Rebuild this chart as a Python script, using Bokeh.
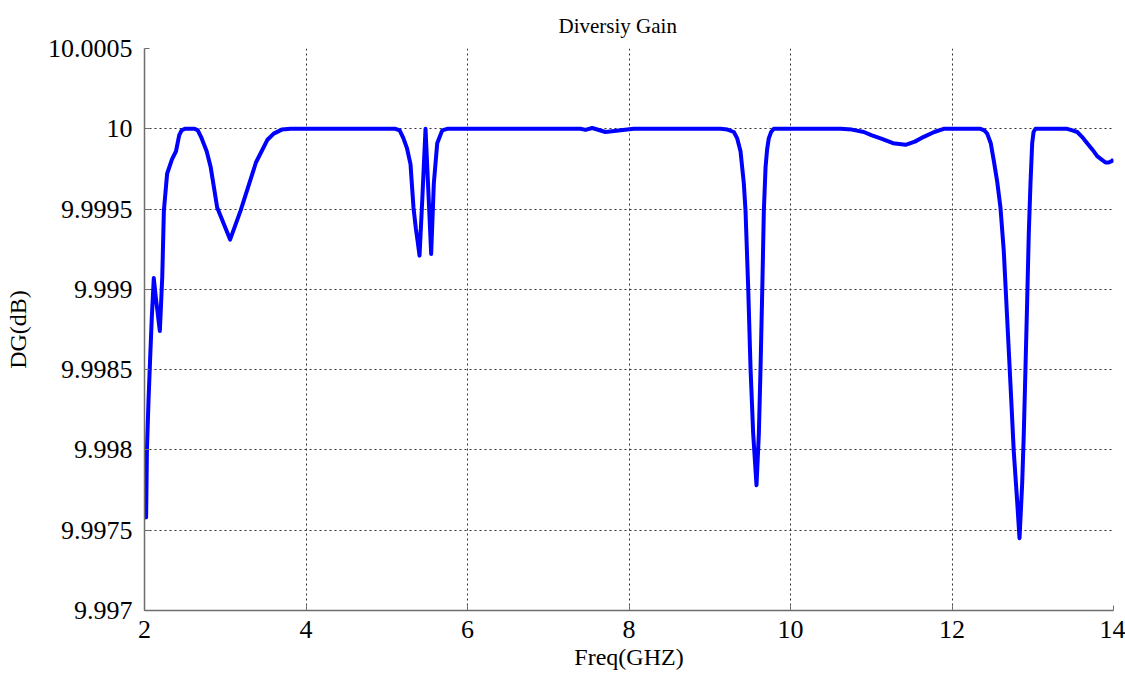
from bokeh.plotting import figure
from bokeh.models import Range1d, FixedTicker, CustomJSTickFormatter
from bokeh.embed import file_html
from bokeh.resources import INLINE

# Diversity gain versus frequency
freq_ghz = [
    2.00, 2.02, 2.03, 2.05, 2.07, 2.09, 2.115, 2.14, 2.19, 2.22, 2.24, 2.28,
    2.34, 2.39, 2.43, 2.46, 2.50, 2.56, 2.62, 2.66, 2.70, 2.77, 2.82, 2.90,
    3.06, 3.19, 3.38, 3.52, 3.60, 3.70, 3.81, 5.00, 5.108, 5.16, 5.207, 5.25,
    5.294, 5.331, 5.36, 5.385, 5.406, 5.439, 5.480, 5.521, 5.550, 5.583, 5.625,
    5.687, 5.749, 7.40, 7.461, 7.544, 7.709, 8.06, 9.133, 9.22, 9.298, 9.34,
    9.381, 9.422, 9.443, 9.476, 9.505, 9.538, 9.579, 9.608, 9.629, 9.650,
    9.670, 9.691, 9.71, 9.731, 9.76, 9.793, 10.619, 10.76, 10.908, 11.0,
    11.115, 11.27, 11.424, 11.54, 11.651, 11.78, 11.898, 12.270, 12.353,
    12.40, 12.436, 12.48, 12.518, 12.56, 12.600, 12.641, 12.683, 12.724,
    12.765, 12.807, 12.836, 12.869, 12.889, 12.910, 12.931, 12.951, 12.972,
    12.993, 13.01, 13.034, 13.427, 13.49, 13.551, 13.61, 13.674, 13.74, 13.798,
    13.85, 13.901, 13.94, 13.984, 14.0,
]
dg_db = [
    9.99765, 9.99758, 9.99800, 9.99831, 9.99857, 9.99882, 9.99907, 9.99895,
    9.99874, 9.99908, 9.99949, 9.99972, 9.99981, 9.99986, 9.99996, 9.99999,
    10.0, 10.0, 10.0, 9.99999, 9.99995, 9.99986, 9.99976, 9.99951, 9.99931,
    9.99949, 9.99979, 9.99993, 9.99997, 9.999995, 10.0, 10.0, 10.0, 9.99999,
    9.99994, 9.99988, 9.99978, 9.99951, 9.99938, 9.99929, 9.99921, 9.99955,
    10.0, 9.99955, 9.99922, 9.99966, 9.99991, 9.99999, 10.0, 10.0, 9.999993,
    10.000005, 9.99998, 10.0, 10.0, 9.999995, 9.99998, 9.99994, 9.99986,
    9.99966, 9.99949, 9.99901, 9.99851, 9.99810, 9.99778, 9.99810, 9.99851,
    9.99899, 9.99949, 9.99976, 9.99987, 9.99994, 9.99998, 10.0, 10.0,
    9.999995, 9.99998, 9.99996, 9.99994, 9.99991, 9.99990, 9.99992, 9.99995,
    9.99998, 10.0, 10.0, 10.0, 9.99999, 9.99997, 9.99991, 9.99980, 9.99967,
    9.99951, 9.99924, 9.99882, 9.99841, 9.99799, 9.99768, 9.99745, 9.99779,
    9.99810, 9.99851, 9.99893, 9.99935, 9.99966, 9.99991, 9.99998, 10.0, 10.0,
    9.99999, 9.99998, 9.99995, 9.99991, 9.99987, 9.99983, 9.99981, 9.99979,
    9.99979, 9.99980, 9.99981,
]

x_ticks = [2, 4, 6, 8, 10, 12, 14]
y_ticks = [9.997, 9.9975, 9.998, 9.9985, 9.999, 9.9995, 10.0, 10.0005]

SERIF = "Liberation Serif"

p = figure(
    width=1125, height=673,
    output_backend="svg", toolbar_location=None,
    x_range=Range1d(2, 14), y_range=Range1d(9.997, 10.0005),
    min_border_left=144, min_border_right=12,
    min_border_top=48, min_border_bottom=63,
    title="Diversiy Gain",
)
p.outline_line_color = None
p.background_fill_color = "white"
p.border_fill_color = "white"

p.title.text_font = SERIF
p.title.text_font_style = "normal"
p.title.text_font_size = "21px"
p.title.align = "left"
p.title.offset = 414
p.title.standoff = 22
p.title.text_color = "black"

p.line(freq_ghz, dg_db, line_color="#0000ff", line_width=4, line_join="round")

p.xaxis.ticker = FixedTicker(ticks=x_ticks)
p.yaxis.ticker = FixedTicker(ticks=y_ticks)
p.yaxis.formatter = CustomJSTickFormatter(
    code="return parseFloat(tick.toFixed(4)).toString();"
)

for ax in (p.xaxis, p.yaxis):
    ax.axis_line_color = "#6e6e6e"
    ax.axis_line_width = 1.5
    ax.major_tick_line_color = "#6e6e6e"
    ax.major_tick_in = 5
    ax.major_tick_out = 0
    ax.minor_tick_line_color = None
    ax.major_label_text_font = SERIF
    ax.major_label_text_font_size = "26px"
    ax.major_label_text_color = "black"
    ax.axis_label_text_font = SERIF
    ax.axis_label_text_font_style = "normal"
    ax.axis_label_text_font_size = "24px"
    ax.axis_label_text_color = "black"

p.xaxis.axis_label = "Freq(GHZ)"
p.yaxis.axis_label = "DG(dB)"
p.xaxis.major_label_standoff = 10
p.xaxis.axis_label_standoff = 3
p.yaxis.major_label_standoff = 12
p.yaxis.axis_label_standoff = 14

for g in (p.xgrid, p.ygrid):
    g.grid_line_color = "#333333"
    g.grid_line_dash = "2 3"
    g.grid_line_width = 1

open("out.html", "w").write(file_html(p, INLINE))
